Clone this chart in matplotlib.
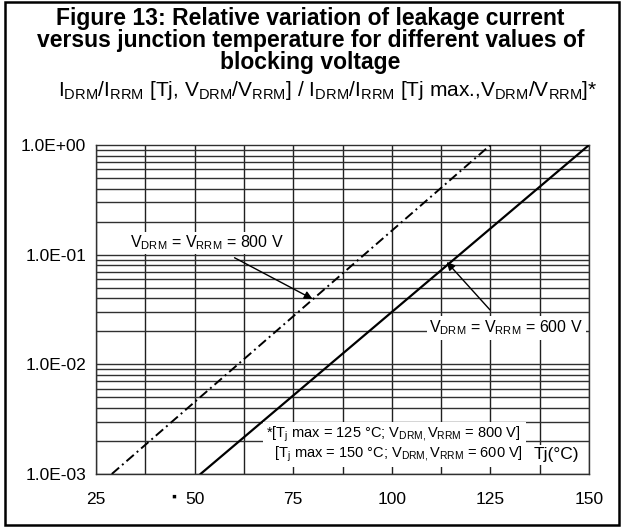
import matplotlib
matplotlib.use("Agg")
from matplotlib import pyplot as plt
from matplotlib.patches import Rectangle

plt.rcParams['font.family'] = ['Liberation Sans', 'DejaVu Sans']
plt.rcParams['mathtext.fontset'] = 'custom'
plt.rcParams['mathtext.rm'] = 'Liberation Sans'
plt.rcParams['mathtext.it'] = 'Liberation Sans'

# Data (straight lines on the log scale)
tj_800 = [29, 125]
rel_800 = [1e-3, 1.0]
tj_600 = [51.5, 150]
rel_600 = [1e-3, 1.0]

x_ticks = [25, 50, 75, 100, 125, 150]
x_tick_labels = ["25", "50", "75", "100", "125", "150"]
x_grid = [25 + 12.5 * i for i in range(11)]
y_ticks = [1e-3, 1e-2, 1e-1, 1e0]
y_tick_labels = ["1.0E-03", "1.0E-02", "1.0E-01", "1.0E+00"]


def sub(s):
    return r'$_{\mathregular{' + s + '}}$'


fig = plt.figure(figsize=(6.21, 5.27), dpi=100)
ax = fig.add_axes([0.1546, 0.1006, 0.794, 0.6243])

ax.set_yscale('log')
ax.set_xlim(25, 150)
ax.set_ylim(1e-3, 1.0)

# grid: every 12.5 degC vertically, 1..9 per decade horizontally
for xg in x_grid:
    ax.axvline(xg, color='#202020', lw=1.0, zorder=1)
for dec in [1e-3, 1e-2, 1e-1]:
    for m in range(1, 10):
        ax.axhline(dec * m, color='#303030', lw=1.0, zorder=1)

ax.plot(tj_800, rel_800, color='black', lw=1.4, dashes=(5, 2, 1, 2), zorder=3)
ax.plot(tj_600, rel_600, color='black', lw=1.6, zorder=3)

ax.set_xticks(x_ticks)
ax.set_xticklabels(x_tick_labels, fontsize=12.5)
ax.set_yticks(y_ticks)
ax.set_yticklabels(y_tick_labels, fontsize=12.5)
ax.yaxis.set_minor_locator(matplotlib.ticker.NullLocator())
ax.tick_params(axis='x', length=0, pad=13)
ax.tick_params(axis='y', length=0, pad=7)
for s in ax.spines.values():
    s.set_color('#303030')
    s.set_linewidth(1.0)

# annotations
lbl_800 = 'V' + sub('DRM') + ' = V' + sub('RRM') + ' = 800 V'
lbl_600 = 'V' + sub('DRM') + ' = V' + sub('RRM') + ' = 600 V'
ax.annotate(lbl_800, xy=(79.9, 0.0394), xytext=(53, 0.128),
            fontsize=11.5, ha='center', va='center',
            arrowprops=dict(arrowstyle='-|>', color='black', lw=1.0,
                            shrinkA=6, shrinkB=0, mutation_scale=12),
            bbox=dict(boxstyle='square,pad=0.1', fc='white', ec='none'),
            zorder=5)
ax.annotate(lbl_600, xy=(113.9, 0.0858), xytext=(129, 0.0215),
            fontsize=11.5, ha='center', va='center',
            arrowprops=dict(arrowstyle='-|>', color='black', lw=1.0,
                            shrinkA=6, shrinkB=0, mutation_scale=12),
            bbox=dict(boxstyle='square,pad=0.15', fc='white', ec='none'),
            zorder=5)

note = ('*[T' + sub('j') + ' max = 125 °C; V' + sub('DRM,') + 'V' + sub('RRM')
        + ' = 800 V]\n  [T' + sub('j') + ' max = 150 °C; V' + sub('DRM,') + 'V'
        + sub('RRM') + ' = 600 V]')
ax.text(0.345, 0.09, note, transform=ax.transAxes, fontsize=10.5,
        ha='left', va='center', linespacing=1.1,
        bbox=dict(boxstyle='square,pad=0.2', fc='white', ec='none'), zorder=5)
ax.text(0.933, 0.058, 'Tj(°C)', transform=ax.transAxes, fontsize=12.5,
        ha='center', va='center',
        bbox=dict(boxstyle='square,pad=0.15', fc='white', ec='none'), zorder=5)

# title block
title_lines = ["Figure 13: Relative variation of leakage current",
               "versus junction temperature for different values of",
               "blocking voltage"]
for i, line in enumerate(title_lines):
    fig.text(0.5, 1 - (19 + 22 * i) / 527, line, fontsize=16.5,
             fontweight='bold', ha='center', va='center')
subtitle = ('I' + sub('DRM') + '/I' + sub('RRM') + ' [Tj, V' + sub('DRM') + '/V'
            + sub('RRM') + '] / I' + sub('DRM') + '/I' + sub('RRM') + ' [Tj max.,V'
            + sub('DRM') + '/V' + sub('RRM') + ']*')
fig.text(0.528, 1 - 90 / 527, subtitle, fontsize=15, ha='center', va='center')

# stray mark next to the 50 label
fig.text(174 / 621, 1 - 497 / 527, '\u25aa', fontsize=10, ha='center', va='center')

# outer frame
fig.patches.append(Rectangle((5 / 621, 2 / 527), 614 / 621, 523 / 527,
                             transform=fig.transFigure, fill=False,
                             ec='black', lw=1.8))

fig.savefig('out.png', dpi=100)
